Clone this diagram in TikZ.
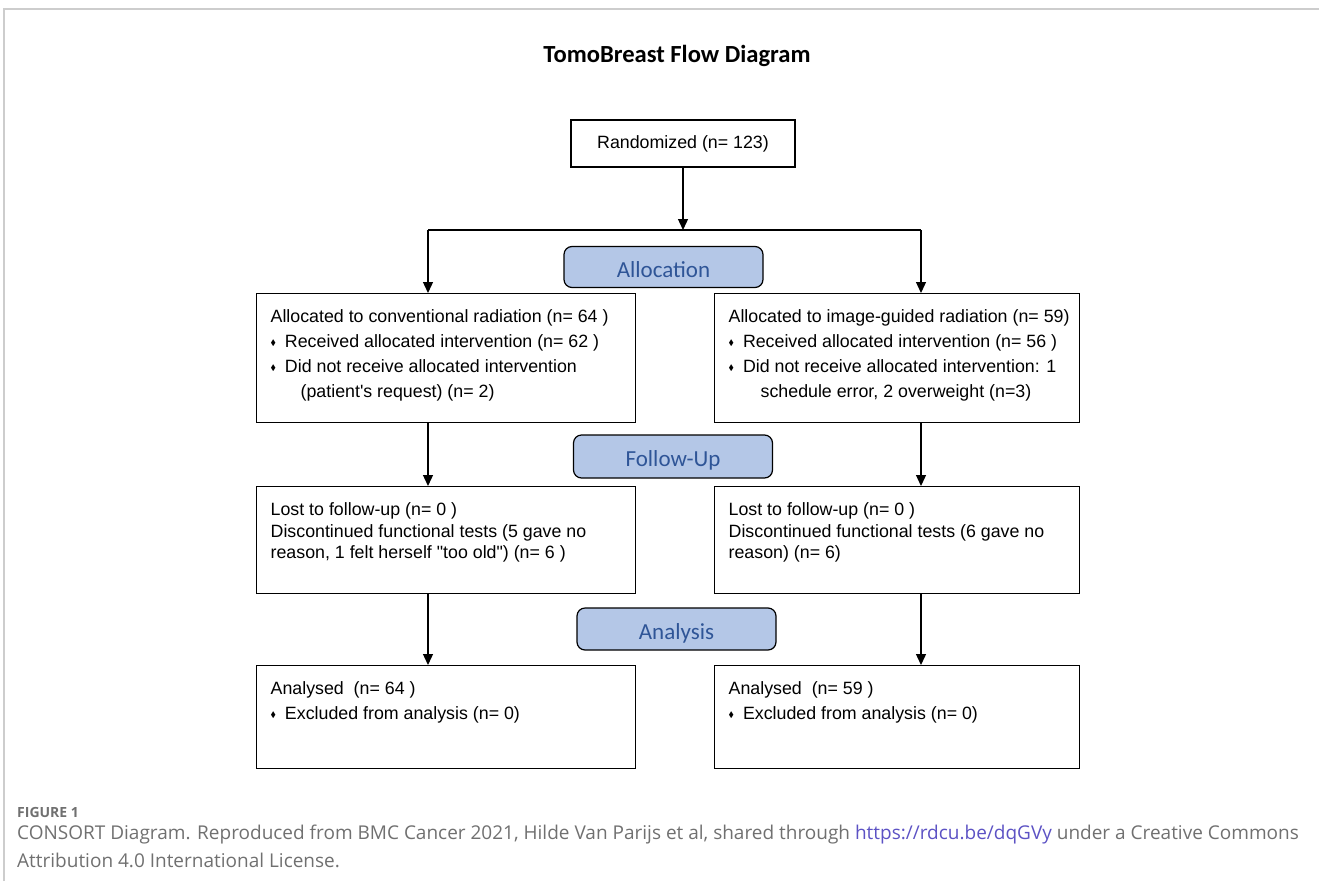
\documentclass[tikz,border=0pt]{standalone}
\usepackage{amssymb}
\usepackage{fontspec}
\setmainfont{Liberation Sans}
\newfontfamily\titlefont{Carlito}
\newfontfamily\capfont{Open Sans}
\usetikzlibrary{arrows.meta,positioning,calc}
\definecolor{phasefill}{RGB}{180,199,231}
\definecolor{phasetext}{RGB}{47,85,151}
\definecolor{capgray}{RGB}{112,112,112}
\definecolor{linkblue}{RGB}{92,82,196}
\definecolor{framegray}{RGB}{205,205,205}
\newcommand{\itembullet}{\raisebox{2.5pt}{\scalebox{0.45}{$\blacklozenge$}}\hspace{9pt}}
\newcommand{\boxtext}[3]{\parbox[c][#1][t]{#2}{#3}}% Syntax: {height}{width}{lines}
\tikzset{
	flowbox/.style={draw, line width=1.3pt, anchor=north west, inner xsep=14pt, inner ysep=16pt, font=\fontsize{17.8}{25}\selectfont},
	phase/.style={draw, line width=1.2pt, rounded corners=8pt, fill=phasefill, text=phasetext, font=\titlefont\fontsize{23}{23}\selectfont, minimum width=199pt, minimum height=41pt, inner sep=0pt, text height=20pt, text depth=0pt},
	arr/.style={line width=1.3pt, -{Triangle[width=10pt,length=11pt]}},
}

\begin{document}
\begin{tikzpicture}[x=1pt,y=-1pt]
		\useasboundingbox (0,0) rectangle (1319,881);
		\draw[framegray, line width=1.5pt] (4,881) -- (4,9) -- (1319,9);
		\node[font=\titlefont\bfseries\fontsize{24.6}{26}\selectfont] (title) at (677,56) {TomoBreast Flow Diagram};
		\node[draw, line width=1.3pt, minimum width=224pt, minimum height=47pt, font=\fontsize{17.8}{20}\selectfont] (rand) at (683,143.5) {Randomized (n= 123)};
		% boxes of the two arms
		\node[flowbox] (L1) at (256,293) {\boxtext{97pt}{351pt}{Allocated to conventional radiation (n= 64 )\\
			\itembullet Received allocated intervention (n= 62 )\\
			\itembullet Did not receive allocated intervention\\
			\hspace*{30pt}(patient\textquotesingle s request) (n= 2)}};
		\node[flowbox] (R1) at (714,293) {\boxtext{97pt}{337pt}{\mbox{Allocated to image-guided radiation (n= 59)}\\
			\itembullet Received allocated intervention (n= 56 )\\
			\itembullet Did not receive allocated intervention: 1\\
			\hspace*{32pt}schedule error, 2 overweight (n=3)}};
		\node[flowbox] (L2) at (256,486) {\boxtext{75pt}{351pt}{\fontsize{17.8}{21.5}\selectfont Lost to follow-up (n= 0 )\\
			Discontinued functional tests (5 gave no\\
			reason, 1 felt herself \textquotedbl too old\textquotedbl) (n= 6 )}};
		\node[flowbox] (R2) at (714,486) {\boxtext{75pt}{337pt}{\fontsize{17.8}{21.5}\selectfont Lost to follow-up (n= 0 )\\
			Discontinued functional tests (6 gave no\\
			reason) (n= 6)}};
		\node[flowbox] (L3) at (256,665) {\boxtext{71pt}{351pt}{Analysed~ (n= 64 )\\
			\itembullet Excluded from analysis (n= 0)}};
		\node[flowbox] (R3) at (714,665) {\boxtext{71pt}{337pt}{Analysed~ (n= 59 )\\
			\itembullet Excluded from analysis (n= 0)}};
		% stage labels
		\node[phase] (alloc) at (663.5,267) {Allocation};
		\node[phase, minimum height=43pt] (follow) at (673,456.5) {Follow-Up};
		\node[phase, minimum height=42pt] (analysis) at (676.5,629) {Analysis};
		% connectors
		\coordinate (split) at (683,230);
		\coordinate (lcol) at (428,230);
		\coordinate (rcol) at (921,230);
		\draw[arr] (rand) -- (split);
		\draw[line width=1.3pt] (lcol) -- (rcol);
		\draw[arr] (lcol) -- (lcol |- L1.north);
		\draw[arr] (rcol) -- (rcol |- R1.north);
		\draw[arr] (lcol |- L1.south) -- (lcol |- L2.north);
		\draw[arr] (rcol |- R1.south) -- (rcol |- R2.north);
		\draw[arr] (lcol |- L2.south) -- (lcol |- L3.north);
		\draw[arr] (rcol |- R2.south) -- (rcol |- R3.north);
		% caption
		\node[anchor=west, inner sep=0pt, text=capgray, font=\capfont\bfseries\fontsize{14}{14}\selectfont] (fig) at (17,812) {FIGURE 1};
		\node[anchor=north west, inner sep=0pt, align=left, text=capgray, font=\capfont\fontsize{19}{28}\selectfont] (caption) at (17,825) {CONSORT Diagram. Reproduced from BMC Cancer 2021, Hilde Van Parijs et al, shared through \textcolor{linkblue}{https://rdcu.be/dqGVy} under a Creative Commons\\Attribution 4.0 International License.};
	\end{tikzpicture}
\end{document}
